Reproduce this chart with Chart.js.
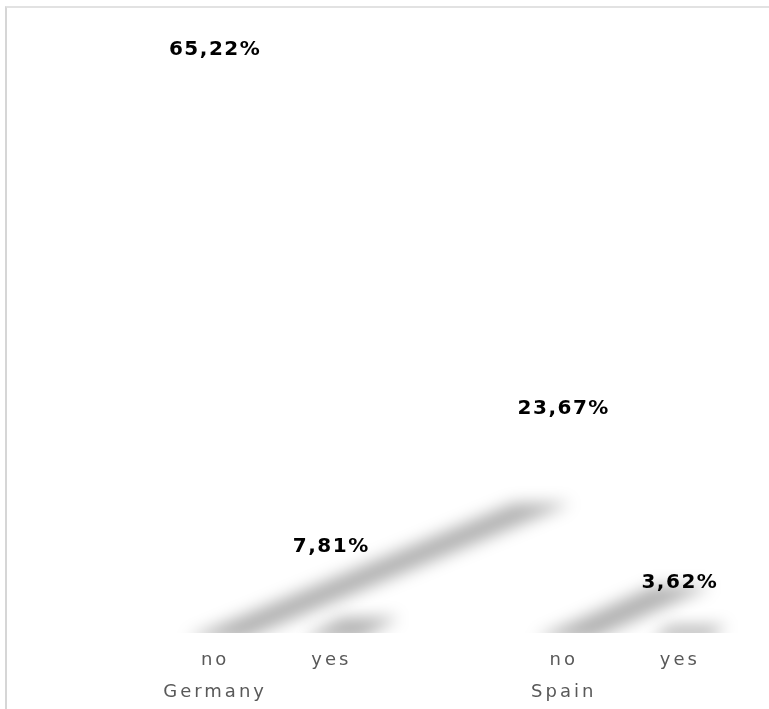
<!DOCTYPE html>
<html>
<head>
<meta charset="utf-8">
<script src="https://cdn.jsdelivr.net/npm/chart.js@4/dist/chart.umd.min.js"></script>
<style>
  html, body { margin: 0; padding: 0; background: #fff; }
  .frame {
    position: absolute; left: 5px; top: 6px; width: 800px; height: 720px;
    border-top: 2px solid #e2e2e2; border-left: 2px solid #d6d6d6;
  }
  .wrap { position: absolute; left: 0; top: 0; width: 769px; height: 709px; }
</style>
</head>
<body>
<div class="frame"></div>
<div class="wrap"><canvas id="chart"></canvas></div>
<script>
// answers per country; the empty slot keeps the two countries apart
const answers = ["no", "yes", "", "no", "yes"];
const countries = ["Germany", "", "", "Spain", ""];
const shares = [65.22, 7.81, null, 23.67, 3.62];

const fmt = (v) => v.toFixed(2).replace(".", ",") + "%";

// bars are white; only their slanted, blurred shadow shows
const shadowPlugin = {
  id: "slantShadow",
  beforeDatasetsDraw(chart) {
    const ctx = chart.ctx;
    const area = chart.chartArea;
    const meta = chart.getDatasetMeta(0);
    ctx.save();
    ctx.beginPath();
    ctx.rect(0, 0, chart.width, area.bottom);
    ctx.clip();
    ctx.filter = "blur(8px)";
    ctx.fillStyle = "rgba(0,0,0,0.3)";
    meta.data.forEach((bar, i) => {
      if (shares[i] == null) return;
      const h = bar.base - bar.y;
      const left = bar.x - bar.width / 2;
      const right = bar.x + bar.width / 2;
      const dx = h * 0.58, dy = h * 0.23;
      ctx.beginPath();
      ctx.moveTo(left, bar.base + 6);
      ctx.lineTo(right, bar.base + 6);
      ctx.lineTo(right + dx, bar.base - dy);
      ctx.lineTo(left + dx, bar.base - dy);
      ctx.closePath();
      ctx.fill();
    });
    ctx.restore();
  },
  afterDatasetsDraw(chart) {
    const ctx = chart.ctx;
    const meta = chart.getDatasetMeta(0);
    ctx.save();
    ctx.letterSpacing = "1.5px";
    ctx.font = "bold 20px 'DejaVu Sans', sans-serif";
    ctx.fillStyle = "#000";
    ctx.textAlign = "center";
    ctx.textBaseline = "middle";
    meta.data.forEach((bar, i) => {
      if (shares[i] == null) return;
      ctx.fillText(fmt(shares[i]), bar.x, bar.y - 19);
    });
    ctx.restore();
  },
};

// wide tracking on the axis text
const spacingPlugin = {
  id: "tickSpacing",
  beforeDraw(chart) { chart.ctx.letterSpacing = "3px"; },
  afterDraw(chart) { chart.ctx.letterSpacing = "0px"; },
};

new Chart(document.getElementById("chart"), {
  type: "bar",
  data: {
    labels: answers.map((a, i) => [a, countries[i]]),
    datasets: [{
      data: shares,
      backgroundColor: "rgba(255,255,255,0)",
      borderWidth: 0,
      categoryPercentage: 0.8,
      barPercentage: 0.62,
    }],
  },
  options: {
    responsive: true,
    maintainAspectRatio: false,
    animation: false,
    layout: { padding: { left: 157, right: 31, top: 10, bottom: 0 } },
    plugins: { legend: { display: false }, tooltip: { enabled: false } },
    scales: {
      x: {
        grid: { display: false, drawTicks: false },
        border: { display: false },
        afterFit(scale) { scale.height = 76; },
        ticks: {
          color: "#595959",
          padding: 11,
          maxRotation: 0,
          autoSkip: false,
          font: { family: "'DejaVu Sans', sans-serif", size: 18, lineHeight: "32px" },
        },
      },
      y: { display: false, min: 0, max: 72 },
    },
  },
  plugins: [shadowPlugin, spacingPlugin],
});
</script>
</body>
</html>
